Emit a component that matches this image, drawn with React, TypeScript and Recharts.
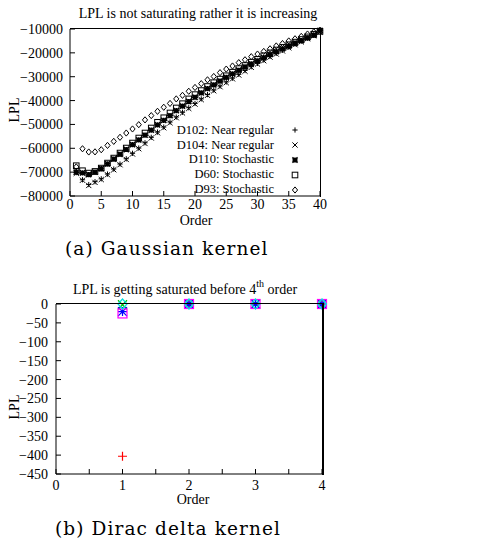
import React from 'react';
import { ScatterChart, Scatter, XAxis, YAxis } from 'recharts';

const orders = [
  1, 2, 3, 4, 5, 6, 7, 8, 9, 10, 11, 12, 13, 14, 15, 16, 17, 18, 19, 20,
  21, 22, 23, 24, 25, 26, 27, 28, 29, 30, 31, 32, 33, 34, 35, 36, 37, 38, 39, 40,
];

// (a) Gaussian kernel: LPL per order
const gD102 = [
  -70200, -73200, -75200, -74000, -72800, -70800, -68700, -66600, -64400, -62100,
  -59900, -57700, -55400, -53200, -51100, -49000, -46900, -44900, -43000, -41200,
  -39300, -37500, -35600, -33900, -32200, -30600, -29000, -27400, -25800, -24400,
  -23000, -21500, -20200, -18900, -17600, -16300, -15100, -13800, -12500, -10800,
];
const gD104 = [
  -70500, -73400, -75600, -74300, -73100, -71100, -69000, -66900, -64700, -62400,
  -60200, -58000, -55700, -53500, -51400, -49300, -47200, -45200, -43300, -41500,
  -39600, -37800, -35900, -34200, -32500, -30900, -29300, -27700, -26100, -24700,
  -23300, -21800, -20500, -19200, -17900, -16600, -15400, -14100, -12800, -11300,
];
const gD110 = [
  -70000, -70300, -71000, -70000, -68500, -66500, -64500, -62500, -60500, -58500,
  -56500, -54500, -52400, -50200, -48300, -46300, -44200, -42300, -40400, -38600,
  -36800, -35000, -33400, -31800, -30300, -28800, -27300, -25900, -24600, -23300,
  -22000, -20700, -19500, -18300, -17200, -16000, -14900, -13700, -12600, -10600,
];
const gD60 = [
  -67300, -69400, -70400, -69700, -68300, -66200, -64100, -62000, -59900, -57800,
  -55700, -53600, -51500, -49100, -47200, -45200, -43100, -41300, -39300, -37500,
  -35800, -34100, -32500, -31000, -29600, -28100, -26600, -25300, -23900, -22700,
  -21200, -20000, -18800, -17700, -16600, -15500, -14400, -13300, -12200, -11000,
];
const gD93 = [
  -67800, -60200, -61550, -61500, -60600, -58800, -57100, -55400, -53600, -51900,
  -50100, -48100, -46300, -44500, -42800, -41200, -39300, -37800, -36100, -34500,
  -32900, -31300, -29900, -28300, -26800, -25500, -24100, -22900, -21600, -20500,
  -19400, -18300, -17100, -16100, -15000, -14100, -13100, -12100, -11200, -10500,
];

// (b) Dirac delta kernel
const dOrders = [1, 2, 3, 4];
const dD102 = [-403, 0, 0, 0];
const dD104 = [-2, 0, 0, 0];
const dD110 = [-20, 0, 0, 0];
const dD60 = [-25, 0, 0, 0];
const dD93 = [0, 0, 0, 0];

const seriesNames = [
  'D102: Near regular',
  'D104: Near regular',
  'D110: Stochastic',
  'D60: Stochastic',
  'D93: Stochastic',
];
const markerKinds = ['plus', 'cross', 'star', 'square', 'diamond'];
const diracColors = ['#ff0000', '#00c000', '#0000ff', '#ff00ff', '#00e0e0'];

const xTicksA = [0, 5, 10, 15, 20, 25, 30, 35, 40];
const yTicksA = [-80000, -70000, -60000, -50000, -40000, -30000, -20000, -10000];
const xTicksB = [0, 0.5, 1, 1.5, 2, 2.5, 3, 3.5, 4];
const yTicksB = [-450, -400, -350, -300, -250, -200, -150, -100, -50, 0];

const serif = '"Liberation Serif", "Times New Roman", serif';

function toPoints(xs: number[], ys: number[]) {
  return xs.map((x, i) => ({ x, y: ys[i] }));
}

function fmt(v: number) {
  return v < 0 ? '\u2212' + Math.abs(v) : String(v);
}

function Marker({ kind, cx, cy, r, color, w }: any) {
  if (cx == null || cy == null) return null;
  const s = { stroke: color, strokeWidth: w, fill: 'none' };
  if (kind === 'plus')
    return <path d={`M${cx - r},${cy}H${cx + r}M${cx},${cy - r}V${cy + r}`} {...s} />;
  if (kind === 'cross')
    return <path d={`M${cx - r},${cy - r}L${cx + r},${cy + r}M${cx - r},${cy + r}L${cx + r},${cy - r}`} {...s} />;
  if (kind === 'star')
    return (
      <path
        d={`M${cx - r},${cy}H${cx + r}M${cx},${cy - r}V${cy + r}M${cx - r},${cy - r}L${cx + r},${cy + r}M${cx - r},${cy + r}L${cx + r},${cy - r}`}
        {...s}
      />
    );
  if (kind === 'square') return <rect x={cx - r} y={cy - r} width={2 * r} height={2 * r} {...s} />;
  return <path d={`M${cx},${cy - r - 0.5}L${cx + r},${cy}L${cx},${cy + r + 0.5}L${cx - r},${cy}Z`} {...s} />;
}

const axisLine = { stroke: '#000', strokeWidth: 1 };
const tickStyle = { fontFamily: serif, fontSize: 14, fill: '#000' };

function GaussLegend() {
  return (
    <div style={{ position: 'absolute', left: 120, top: 123, width: 190, fontFamily: serif, fontSize: 12.5, color: '#000' }}>
      {seriesNames.map((n, i) => (
        <div key={n} style={{ display: 'flex', alignItems: 'center', height: 14.8, justifyContent: 'flex-end' }}>
          <span style={{ lineHeight: '13px' }}>{n}</span>
          <svg width={30} height={12} style={{ marginLeft: 6 }}>
            <Marker kind={markerKinds[i]} cx={15} cy={6} r={markerKinds[i] === 'square' ? 2.8 : 2.6} color="#000" w={markerKinds[i] === 'star' ? 1.6 : 1} />
          </svg>
        </div>
      ))}
    </div>
  );
}

const label: React.CSSProperties = {
  position: 'absolute',
  fontFamily: serif,
  color: '#000',
  whiteSpace: 'nowrap',
  transform: 'translate(-50%, -50%)',
  lineHeight: 1,
};

const caption: React.CSSProperties = {
  position: 'absolute',
  fontFamily: '"DejaVu Serif", serif',
  fontSize: 18.5,
  letterSpacing: 1.1,
  color: '#000',
  whiteSpace: 'nowrap',
  lineHeight: 1,
};

// plot frame (gnuplot border box) laid over each chart's plot area
function Frame({ left, top, width, height, right = 1 }: any) {
  return (
    <div
      style={{
        position: 'absolute',
        left,
        top,
        width,
        height,
        borderTop: '1px solid #000',
        borderRight: `${right}px solid #000`,
        pointerEvents: 'none',
      }}
    />
  );
}

export default function App() {
  const gauss = [gD102, gD104, gD110, gD60, gD93];
  const dirac = [dD102, dD104, dD110, dD60, dD93];
  return (
    <div style={{ position: 'absolute', left: 0, top: 0, width: 486, height: 540, background: '#fff' }}>
      <div style={{ ...label, left: 198, top: 14, fontSize: 14 }}>LPL is not saturating rather it is increasing</div>
      <ScatterChart width={486} height={230} margin={{ top: 29, right: 166, bottom: 0, left: 0 }}>
        <XAxis xAxisId="b" dataKey="x" type="number" domain={[0, 40]} ticks={xTicksA} interval={0}
          axisLine={axisLine} tickLine={axisLine} tickSize={-5} tickMargin={8} height={34} tick={tickStyle} />
        <YAxis yAxisId="l" dataKey="y" type="number" domain={[-80000, -10000]} ticks={yTicksA} interval={0}
          axisLine={axisLine} tickLine={axisLine} tickSize={-5} tickMargin={12} width={70} tick={tickStyle} tickFormatter={fmt} />
        {gauss.map((vals, i) => (
          <Scatter key={seriesNames[i]} name={seriesNames[i]} data={toPoints(orders, vals)} xAxisId="b" yAxisId="l"
            isAnimationActive={false}
            shape={(p: any) => <Marker kind={markerKinds[i]} cx={p.cx} cy={p.cy} r={markerKinds[i] === 'square' ? 2.8 : 2.6} color="#000" w={markerKinds[i] === 'star' ? 1.6 : 1} />} />
        ))}
      </ScatterChart>
      <Frame left={70} top={28} width={250} height={168} />
      <GaussLegend />
      <div style={{ ...label, left: 15, top: 110, fontSize: 14, transform: 'translate(-50%, -50%) rotate(-90deg)' }}>LPL</div>
      <div style={{ ...label, left: 196, top: 221, fontSize: 14 }}>Order</div>
      <div style={{ ...caption, left: 65, top: 240 }}>(a) Gaussian kernel</div>

      <div style={{ ...label, left: 185, top: 288, fontSize: 14 }}>
        LPL is getting saturated before 4<sup style={{ fontSize: 10, verticalAlign: 7 }}>th</sup> order
      </div>
      <div style={{ position: 'absolute', left: 0, top: 270 }}>
        <ScatterChart width={486} height={240} margin={{ top: 34, right: 164, bottom: 0, left: 0 }}>
          <XAxis xAxisId="b" dataKey="x" type="number" domain={[0, 4]} ticks={xTicksB} interval={0}
            axisLine={axisLine} tickLine={axisLine} tickSize={-5} tickMargin={11} height={36} tick={tickStyle}
            tickFormatter={(v: number) => (Number.isInteger(v) ? String(v) : '')} />
          <YAxis yAxisId="l" dataKey="y" type="number" domain={[-450, 0]} ticks={yTicksB} interval={0}
            axisLine={axisLine} tickLine={axisLine} tickSize={-5} tickMargin={13} width={56} tick={tickStyle} tickFormatter={fmt} />
          {dirac.map((vals, i) => (
            <Scatter key={seriesNames[i]} name={seriesNames[i]} data={toPoints(dOrders, vals)} xAxisId="b" yAxisId="l"
              isAnimationActive={false}
              shape={(p: any) => <Marker kind={markerKinds[i]} cx={p.cx} cy={p.cy} r={4.5} color={diracColors[i]} w={1.2} />} />
          ))}
        </ScatterChart>
      </div>
      <Frame left={56} top={303} width={266} height={171} right={2} />
      <div style={{ ...label, left: 15, top: 407, fontSize: 14, transform: 'translate(-50%, -50%) rotate(-90deg)' }}>LPL</div>
      <div style={{ ...label, left: 193, top: 500, fontSize: 14 }}>Order</div>
      <div style={{ ...caption, left: 55, top: 520 }}>(b) Dirac delta kernel</div>
    </div>
  );
}
